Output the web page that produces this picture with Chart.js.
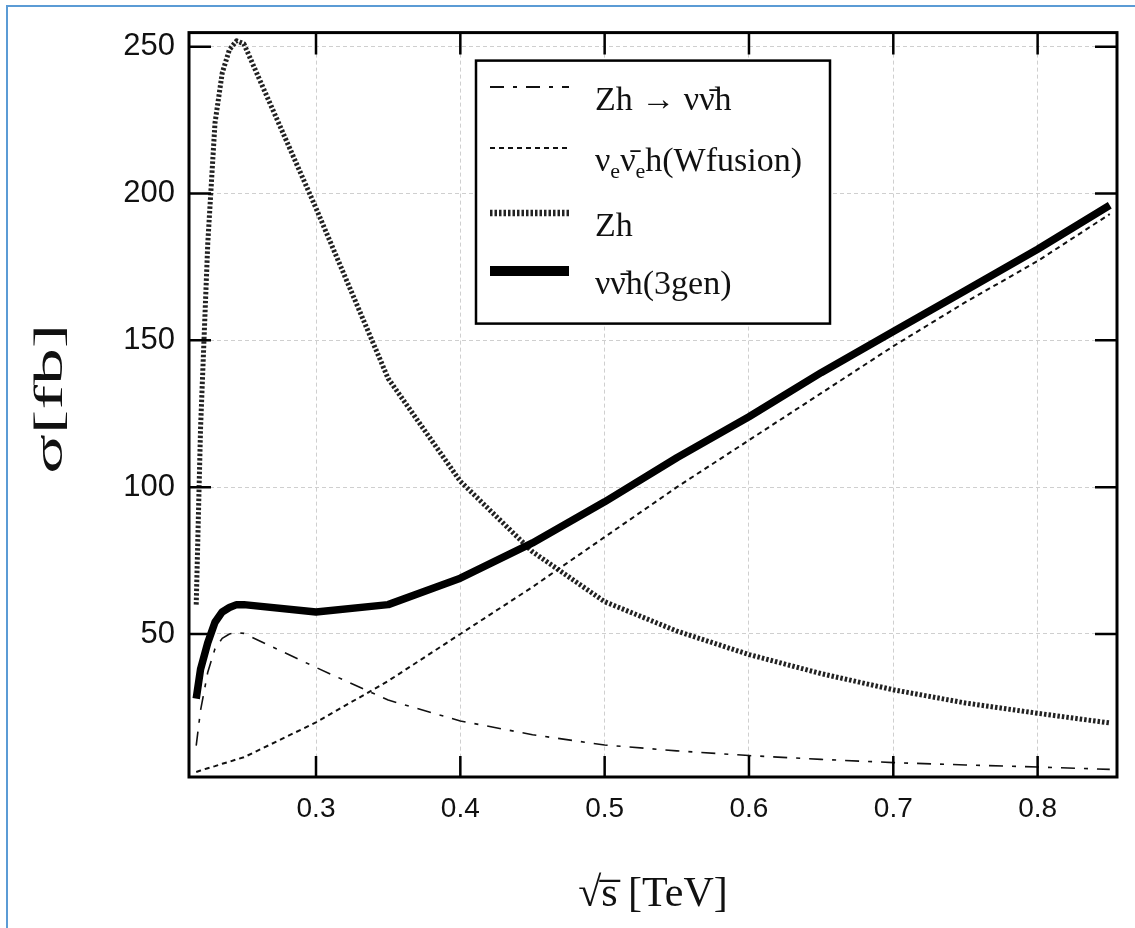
<!DOCTYPE html>
<html><head><meta charset="utf-8">
<script src="https://cdn.jsdelivr.net/npm/chart.js@4/dist/chart.umd.min.js"></script>
<style>
html,body{margin:0;padding:0;background:#fff;}
#wrap{position:relative;width:1135px;height:928px;overflow:hidden;}
#frame{position:absolute;left:6px;top:5px;width:1140px;height:940px;border-left:2px solid #5b9bd5;border-top:2px solid #5b9bd5;box-sizing:border-box;pointer-events:none;}
canvas{position:absolute;left:0;top:0;}
</style></head>
<body><div id="wrap"><canvas id="c" width="1135" height="928"></canvas><div id="frame"></div></div>
<script>
// ---- data ----
const energy  = [0.217, 0.22, 0.225, 0.23, 0.235, 0.24, 0.245, 0.25, 0.3, 0.35, 0.4, 0.45, 0.5, 0.55, 0.6, 0.65, 0.7, 0.75, 0.8, 0.85];
const zhToNuNu = [12, 24, 37, 45, 48.5, 50, 50.5, 50.2, 38.6, 27.5, 20.4, 15.7, 12.2, 10.2, 8.6, 7.3, 6.2, 5.4, 4.7, 3.9];
const wFusion  = [3, 3.5, 4.3, 5, 5.8, 6.5, 7.3, 8, 19.9, 34, 50, 66, 83, 100, 116, 132, 148, 163, 177, 193];
const zh       = [60, 120, 183, 224, 241, 249, 252, 251, 195, 137, 102, 78, 61, 51, 43, 36.5, 31, 26.5, 23, 19.7];
const nuNuH3   = [28, 38, 47, 54, 57.5, 59, 60, 60, 57.5, 60, 69, 81, 95, 110, 124, 139, 153, 167, 181, 196];
const xTicks = [0.3, 0.4, 0.5, 0.6, 0.7, 0.8];
const yTicks = [50, 100, 150, 200, 250];
const legendLabels = ['Zh \u2192 \u03BD\u03BD\u0304h', '\u03BD_e\u03BD\u0304_eh(Wfusion)', 'Zh', '\u03BD\u03BD\u0304h(3gen)'];
const xTitle = '\u221As\u0305 [TeV]';
const yTitle = '\u03C3[fb]';

const pts = vals => energy.map((e, i) => ({x: e, y: vals[i]}));
const serif = "'Liberation Serif','Times New Roman',serif";

const frameTicks = {
  id: 'frameTicks',
  afterDraw(chart) {
    const {ctx, chartArea: a, scales: {x, y}} = chart;
    ctx.save();
    ctx.strokeStyle = '#000';
    ctx.lineWidth = 2.5;
    ctx.beginPath();
    xTicks.forEach(v => {
      const px = x.getPixelForValue(v);
      ctx.moveTo(px, a.bottom); ctx.lineTo(px, a.bottom - 21);
      ctx.moveTo(px, a.top); ctx.lineTo(px, a.top + 22);
    });
    yTicks.forEach(v => {
      const py = y.getPixelForValue(v);
      ctx.moveTo(a.left, py); ctx.lineTo(a.left + 22, py);
      ctx.moveTo(a.right, py); ctx.lineTo(a.right - 22, py);
    });
    ctx.stroke();
    ctx.lineWidth = 3;
    ctx.strokeRect(a.left, a.top, a.right - a.left, a.bottom - a.top);
    // y axis title (stretched along its length like the reference)
    ctx.font = "40px " + serif;
    ctx.fillStyle = '#111';
    ctx.textAlign = 'center';
    ctx.textBaseline = 'alphabetic';
    const w = ctx.measureText(yTitle).width;
    ctx.translate(62, (a.top + a.bottom) / 2 - 6);
    ctx.rotate(-Math.PI / 2);
    ctx.scale(150 / w, 1);
    ctx.fillText(yTitle, 0, 0);
    ctx.restore();
  }
};

const boxLegend = {
  id: 'boxLegend',
  afterDatasetsDraw(chart) {
    const {ctx, chartArea: a} = chart;
    const bx = a.left + 287, by = a.top + 28, bw = 354, bh = 263;
    const sampleW = [1.8, 2, 6.5, 10];
    const rowY = [87, 148, 213, 271];
    ctx.save();
    ctx.fillStyle = '#fff';
    ctx.fillRect(bx, by, bw, bh);
    ctx.strokeStyle = '#000';
    ctx.lineWidth = 2.5;
    ctx.strokeRect(bx, by, bw, bh);
    chart.data.datasets.forEach((ds, i) => {
      const ly = rowY[i];
      ctx.beginPath();
      ctx.setLineDash(ds.borderDash || []);
      ctx.lineWidth = sampleW[i];
      ctx.strokeStyle = ds.borderColor;
      ctx.moveTo(bx + 14, ly); ctx.lineTo(bx + 93, ly);
      ctx.stroke();
      ctx.setLineDash([]);
      const parts = legendLabels[i].split(/(_e)/);
      let tx = bx + 119;
      const base = ly + 23;
      ctx.fillStyle = '#111';
      ctx.textBaseline = 'alphabetic';
      parts.forEach(p => {
        if (!p) return;
        if (p === '_e') {
          ctx.font = "22px " + serif;
          ctx.fillText('e', tx, base + 7);
          tx += ctx.measureText('e').width;
        } else {
          ctx.font = "34px " + serif;
          ctx.fillText(p, tx, base);
          tx += ctx.measureText(p).width;
        }
      });
    });
    ctx.restore();
  }
};

new Chart(document.getElementById('c'), {
  type: 'line',
  data: {
    datasets: [
      {label: legendLabels[0], data: pts(zhToNuNu), borderColor: '#111', borderWidth: 1.6, borderDash: [14, 9, 4, 9], order: 1},
      {label: legendLabels[1], data: pts(wFusion), borderColor: '#111', borderWidth: 2, borderDash: [5, 4], order: 1},
      {label: legendLabels[2], data: pts(zh), borderColor: '#222', borderWidth: 5, borderDash: [2.5, 2], order: 1},
      {label: legendLabels[3], data: pts(nuNuH3), borderColor: '#000', borderWidth: 7.5, order: 0}
    ]
  },
  options: {
    responsive: false,
    animation: false,
    devicePixelRatio: 1,
    layout: {padding: {left: 0, top: 25, right: 18, bottom: 0}},
    elements: {point: {radius: 0}, line: {tension: 0, fill: false, borderJoinStyle: 'round'}},
    plugins: {legend: {display: false}, tooltip: {enabled: false}},
    scales: {
      x: {
        type: 'linear', min: 0.212, max: 0.855,
        afterBuildTicks: s => { s.ticks = xTicks.map(v => ({value: v})); },
        afterFit: s => { s.height = 151; },
        ticks: {callback: v => v.toFixed(1), color: '#111', padding: 15, maxRotation: 0, font: {family: "'Liberation Sans',Arial,sans-serif", size: 28}},
        grid: {color: '#cfcfcf', lineWidth: 1, drawTicks: false},
        border: {display: false, dash: [4, 3]},
        title: {display: true, text: xTitle, color: '#111', font: {family: serif, size: 42}, padding: {top: 0, bottom: 8}}
      },
      y: {
        type: 'linear', min: 1.3, max: 254.8,
        afterBuildTicks: s => { s.ticks = yTicks.map(v => ({value: v})); },
        afterFit: s => { s.width = 189; },
        ticks: {color: '#111', padding: 14, font: {family: "'Liberation Sans Narrow','Liberation Sans',Arial,sans-serif", size: 31}},
        grid: {color: '#cfcfcf', lineWidth: 1, drawTicks: false},
        border: {display: false, dash: [4, 3]},
        title: {display: false}
      }
    }
  },
  plugins: [boxLegend, frameTicks]
});
</script>
</body></html>
